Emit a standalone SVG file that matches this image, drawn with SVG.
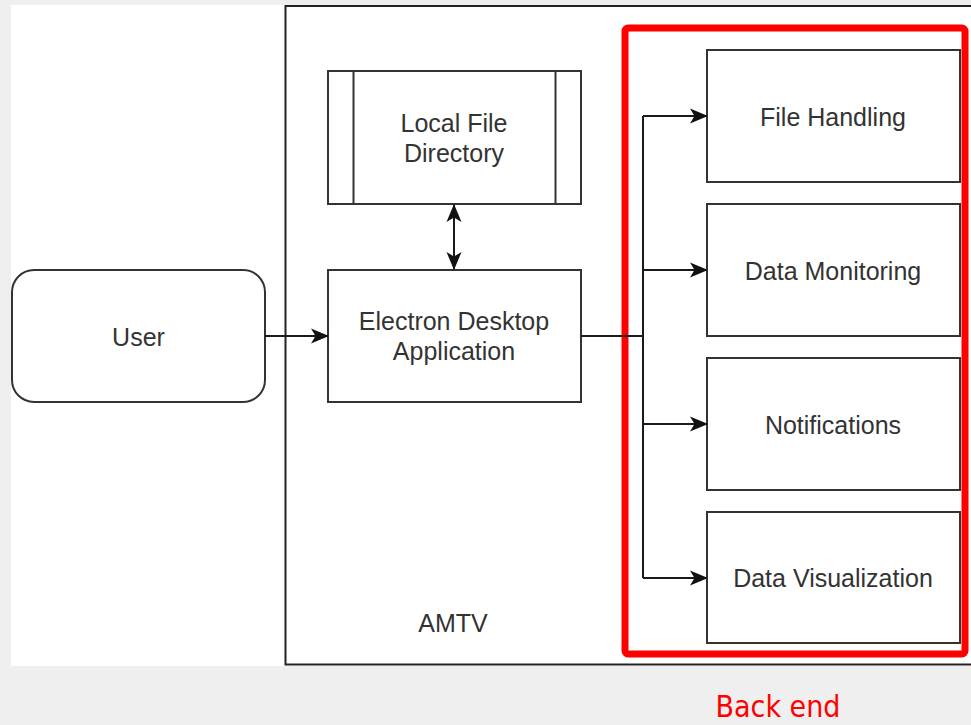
<svg xmlns="http://www.w3.org/2000/svg" width="971" height="725" viewBox="0 0 971 725">
<style>
.box{fill:#fff;stroke:#333;stroke-width:2}
.lbl{font-family:"Liberation Sans",Arial,sans-serif;font-size:25px;fill:#333;text-anchor:middle}
.con{fill:none;stroke:#1a1a1a;stroke-width:2}
</style>
<defs>
<marker id="arr" viewBox="0 0 18 18" markerWidth="18" markerHeight="18" refX="17" refY="9" orient="auto-start-reverse" markerUnits="userSpaceOnUse">
<path d="M0,1.5 L18,9 L0,16.5 L4.5,9 Z" fill="#111"/>
</marker>
</defs>
<rect x="0" y="0" width="971" height="725" fill="#efefef"/>
<rect x="11" y="5" width="960" height="661" fill="#fff"/>
<g id="amtv">
<rect x="285.5" y="6" width="720" height="658.5" fill="none" stroke="#222" stroke-width="2"/>
<text class="lbl" x="453" y="632">AMTV</text>
</g>
<g id="backend-frame">
<rect x="625" y="28" width="340" height="626" rx="3" fill="none" stroke="#ff0000" stroke-width="7"/>
<text x="778" y="717" font-family="'DejaVu Sans Condensed','DejaVu Sans',sans-serif" font-size="30" fill="#ff0000" text-anchor="middle">Back end</text>
</g>
<g id="user">
<rect class="box" x="12" y="270" width="253" height="132" rx="22"/>
<text class="lbl" x="138.5" y="346">User</text>
</g>
<g id="local-file-directory">
<rect class="box" x="328" y="71" width="253" height="133"/>
<line x1="353.5" y1="71" x2="353.5" y2="204" stroke="#333" stroke-width="2"/>
<line x1="555.5" y1="71" x2="555.5" y2="204" stroke="#333" stroke-width="2"/>
<text class="lbl" x="454" y="132">Local File</text>
<text class="lbl" x="454" y="162">Directory</text>
</g>
<g id="electron-app">
<rect class="box" x="328" y="270" width="253" height="132"/>
<text class="lbl" x="454" y="330">Electron Desktop</text>
<text class="lbl" x="454" y="360">Application</text>
</g>
<g id="file-handling">
<rect class="box" x="707" y="50" width="253" height="132"/>
<text class="lbl" x="833" y="126">File Handling</text>
</g>
<g id="data-monitoring">
<rect class="box" x="707" y="204" width="253" height="132"/>
<text class="lbl" x="833" y="280">Data Monitoring</text>
</g>
<g id="notifications">
<rect class="box" x="707" y="358" width="253" height="132"/>
<text class="lbl" x="833" y="434">Notifications</text>
</g>
<g id="data-visualization">
<rect class="box" x="707" y="512" width="253" height="131"/>
<text class="lbl" x="833" y="587">Data Visualization</text>
</g>
<g id="connectors">
<line class="con" x1="265" y1="336" x2="328" y2="336" marker-end="url(#arr)"/>
<line class="con" x1="454" y1="205" x2="454" y2="269" marker-start="url(#arr)" marker-end="url(#arr)"/>
<path class="con" d="M581,336 H643"/>
<path class="con" d="M643,116 V578"/>
<line class="con" x1="643" y1="116" x2="707" y2="116" marker-end="url(#arr)"/>
<line class="con" x1="643" y1="270" x2="707" y2="270" marker-end="url(#arr)"/>
<line class="con" x1="643" y1="424" x2="707" y2="424" marker-end="url(#arr)"/>
<line class="con" x1="643" y1="578" x2="707" y2="578" marker-end="url(#arr)"/>
</g>
</svg>
